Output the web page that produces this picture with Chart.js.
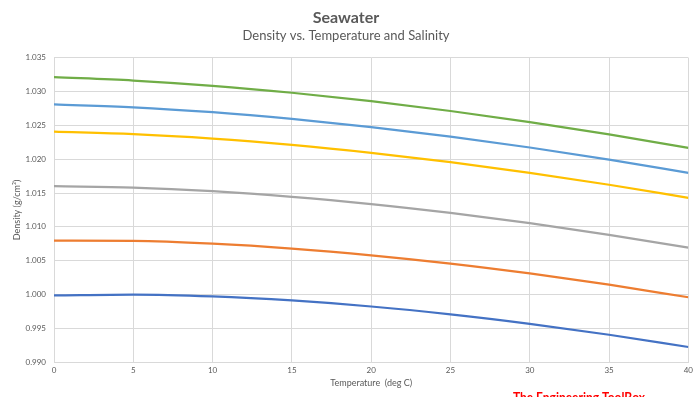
<!DOCTYPE html>
<html>
<head>
<meta charset="utf-8">
<script src="https://cdn.jsdelivr.net/npm/chart.js@4.4.1/dist/chart.umd.min.js"></script>
<style>
  html, body { margin: 0; padding: 0; background: #ffffff; }
  #wrap { width: 697px; height: 397px; position: relative; }
</style>
</head>
<body>
<div id="wrap"><canvas id="seaChart"></canvas></div>
<script>

// temperature (deg C)
const temps = [0, 5, 10, 15, 20, 25, 30, 35, 40];

// density (g/cm3) for each salinity curve
const salt0  = [0.99984, 0.99997, 0.99970, 0.99910, 0.99821, 0.99705, 0.99565, 0.99403, 0.99222];
const salt10 = [1.00795, 1.00791, 1.00750, 1.00678, 1.00579, 1.00456, 1.00310, 1.00143, 0.99958];
const salt20 = [1.01601, 1.01581, 1.01527, 1.01444, 1.01336, 1.01205, 1.01053, 1.00881, 1.00692];
const salt30 = [1.02407, 1.02371, 1.02305, 1.02212, 1.02095, 1.01957, 1.01799, 1.01622, 1.01428];
const salt35 = [1.02811, 1.02768, 1.02695, 1.02596, 1.02476, 1.02334, 1.02173, 1.01993, 1.01797];
const salt40 = [1.03215, 1.03164, 1.03086, 1.02983, 1.02858, 1.02713, 1.02548, 1.02366, 1.02168];

const seriesNames = ["S 0", "S 10", "S 20", "S 30", "S 35", "S 40"];
const seriesValues = [salt0, salt10, salt20, salt30, salt35, salt40];
const seriesColors = ["#4472C4", "#ED7D31", "#A5A5A5", "#FFC000", "#5B9BD5", "#70AD47"];

const yTicks = [0.990, 0.995, 1.000, 1.005, 1.010, 1.015, 1.020, 1.025, 1.030, 1.035];

const textColor = "#595959";
const gridColor = "#d9d9d9";
const fontName = "Lato, 'Liberation Sans', sans-serif";

const watermark = {
    id: "watermark",
    afterDraw(chart) {
        const ctx = chart.ctx;
        ctx.save();
        ctx.font = "bold 13px " + fontName;
        const w = ctx.measureText("The Engineering ToolBox").width;
        ctx.translate(513, 402);
        ctx.scale(132 / w, 1);
        ctx.fillStyle = "#ff0000";
        ctx.textBaseline = "alphabetic";
        ctx.fillText("The Engineering ToolBox", 0, 0);
        ctx.restore();
    }
};

new Chart(
    document.getElementById("seaChart"),
    {
        type: "line",
        data: {
            datasets: seriesValues.map((vals, i) => ({
                label: seriesNames[i],
                data: temps.map((t, k) => ({ x: t, y: vals[k] })),
                borderColor: seriesColors[i],
                backgroundColor: seriesColors[i],
                borderWidth: 2.25,
                pointRadius: 0,
                cubicInterpolationMode: "monotone",
                fill: false
            }))
        },
        options: {
            responsive: true,
            maintainAspectRatio: false,
            animation: false,
            layout: { padding: { left: 0, right: 5, top: 0, bottom: 0 } },
            plugins: {
                legend: { display: false },
                tooltip: { enabled: false },
                title: {
                    display: true,
                    text: "Seawater",
                    color: textColor,
                    font: { family: fontName, size: 16, weight: "bold" },
                    padding: { top: 8, bottom: 0 }
                },
                subtitle: {
                    display: true,
                    text: "Density vs. Temperature and Salinity",
                    color: textColor,
                    font: { family: fontName, size: 13 },
                    padding: { top: 1, bottom: 14 }
                }
            },
            scales: {
                x: {
                    type: "linear",
                    min: 0,
                    max: 40,
                    ticks: {
                        stepSize: 5,
                        color: textColor,
                        font: { family: fontName, size: 8 },
                        padding: 4
                    },
                    grid: { color: gridColor, drawTicks: false },
                    border: { color: gridColor },
                    title: {
                        display: true,
                        text: "Temperature  (deg C)",
                        color: textColor,
                        font: { family: fontName, size: 9 },
                        padding: { top: 2, bottom: 8.6 }
                    },
                    afterFit: s => { s.height = 35; }
                },
                y: {
                    min: 0.990,
                    max: 1.035,
                    afterBuildTicks: s => { s.ticks = yTicks.map(v => ({ value: v })); },
                    ticks: {
                        color: textColor,
                        font: { family: fontName, size: 8 },
                        padding: 8,
                        callback: v => v.toFixed(3)
                    },
                    grid: { color: gridColor, drawTicks: false },
                    border: { color: gridColor },
                    title: {
                        display: true,
                        text: "Density (g/cm³)",
                        color: textColor,
                        font: { family: fontName, size: 9 },
                        padding: { top: 12, bottom: 4 }
                    },
                    afterFit: s => { s.width = 54; }
                }
            }
        },
        plugins: [watermark]
    }
);
</script>
</body>
</html>
